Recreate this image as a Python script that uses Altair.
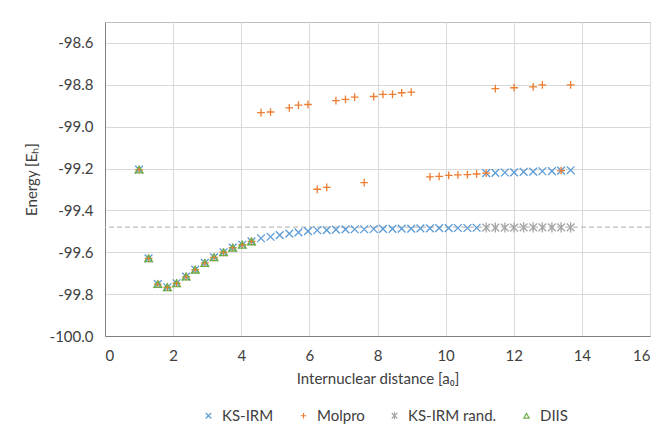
import altair as alt
import pandas as pd

# Internuclear distances (bohr) of the scan grid
dist = [1.00, 1.28, 1.55, 1.83, 2.10, 2.38, 2.65, 2.93, 3.20, 3.48, 3.75, 4.03, 4.30,
        4.58, 4.86, 5.13, 5.41, 5.68, 5.96, 6.23, 6.51, 6.78, 7.06, 7.33, 7.61, 7.89,
        8.16, 8.44, 8.71, 8.99, 9.26, 9.54, 9.81, 10.09, 10.36, 10.64, 10.91, 11.19,
        11.46, 11.74, 12.01, 12.29, 12.57, 12.84, 13.12, 13.39, 13.67]

ks_irm = [-99.205, -99.629, -99.752, -99.767, -99.748, -99.716, -99.683, -99.651,
          -99.624, -99.600, -99.578, -99.564, -99.548, -99.533, -99.526, -99.518,
          -99.511, -99.505, -99.499, -99.495, -99.494, -99.492, -99.491, -99.490,
          -99.490, -99.489, -99.488, -99.488, -99.487, -99.487, -99.486, -99.486,
          -99.485, -99.485, -99.484, -99.484, -99.483, -99.222, -99.221, -99.219,
          -99.218, -99.216, -99.215, -99.213, -99.212, -99.210, -99.208]

molpro_x = [1.00, 1.28, 1.55, 1.83, 2.10, 2.38, 2.65, 2.93, 3.20, 3.48, 3.75, 4.03, 4.30,
            4.58, 4.86, 5.41, 5.68, 5.96, 6.23, 6.51, 6.78, 7.06, 7.33, 7.61, 7.89,
            8.16, 8.44, 8.71, 8.99, 9.54, 9.81, 10.09, 10.36, 10.64, 10.91, 11.19,
            11.46, 12.01, 12.57, 12.84, 13.39, 13.67]
molpro_y = [-99.205, -99.629, -99.752, -99.767, -99.748, -99.716, -99.683, -99.651,
            -99.624, -99.600, -99.578, -99.564, -99.548,
            -98.933, -98.930, -98.910, -98.897, -98.894, -99.299, -99.290, -98.876,
            -98.870, -98.859, -99.267, -98.856, -98.846, -98.846, -98.838, -98.835,
            -99.240, -99.237, -99.233, -99.230, -99.229, -99.226, -99.222,
            -98.818, -98.814, -98.810, -98.800, -99.210, -98.800]

rand_x = [11.19, 11.46, 11.74, 12.01, 12.29, 12.57, 12.84, 13.12, 13.39, 13.67]
rand_y = [-99.482, -99.482, -99.482, -99.482, -99.481, -99.481, -99.481, -99.481,
          -99.481, -99.481]

diis_x = [1.00, 1.28, 1.55, 1.83, 2.10, 2.38, 2.65, 2.93, 3.20, 3.48, 3.75, 4.03, 4.30]
diis_y = [-99.205, -99.629, -99.752, -99.767, -99.748, -99.716, -99.683, -99.651,
          -99.624, -99.600, -99.578, -99.564, -99.548]

reference_energy = -99.48

x_ticks = [0, 2, 4, 6, 8, 10, 12, 14, 16]
y_ticks = [-100.0, -99.8, -99.6, -99.4, -99.2, -99.0, -98.8, -98.6]

series = ["KS-IRM", "Molpro", "KS-IRM rand.", "DIIS"]
colors = ["#5B9BD5", "#ED7D31", "#A5A5A5", "#70AD47"]
shapes = ["M-1,-1L1,1M-1,1L1,-1",
          "M-1,0L1,0M0,-1L0,1",
          "M-1,-1L1,1M-1,1L1,-1M0,-1.3L0,1.3",
          "triangle-up"]

rows = []
for x, y in zip(dist, ks_irm):
    rows.append({"r": x, "E": y, "s": "KS-IRM"})
for x, y in zip(molpro_x, molpro_y):
    rows.append({"r": x, "E": y, "s": "Molpro"})
for x, y in zip(rand_x, rand_y):
    rows.append({"r": x, "E": y, "s": "KS-IRM rand."})
for x, y in zip(diis_x, diis_y):
    rows.append({"r": x, "E": y, "s": "DIIS"})
df = pd.DataFrame(rows)
df["o"] = df["s"].map({s: i for i, s in enumerate(series)})

FONT = "Lato"
TXT = "#404040"

xscale = alt.Scale(domain=[0, 16], nice=False, zero=False)
yscale = alt.Scale(domain=[-100.0, -98.5], nice=False, zero=False)

rule = alt.Chart(pd.DataFrame({"E": [reference_energy]})).mark_rule(
    color="#BFBFBF", strokeDash=[5, 3], strokeWidth=1.2
).encode(y=alt.Y("E:Q", scale=yscale))

points = alt.Chart(df).mark_point(filled=False, strokeWidth=1.3, size=60, opacity=1).encode(
    x=alt.X("r:Q", scale=xscale,
            axis=alt.Axis(values=x_ticks, title="Internuclear distance [a₀]",
                          grid=True, gridColor="#D9D9D9", domainColor="#808080",
                          ticks=False, labelPadding=12, labelFontSize=15,
                          titleFontSize=15, titleFontWeight="normal", titlePadding=8,
                          labelColor=TXT, titleColor=TXT, labelFont=FONT, titleFont=FONT)),
    y=alt.Y("E:Q", scale=yscale,
            axis=alt.Axis(values=y_ticks,
                          labelExpr="'-' + format(-datum.value, '.1f')",
                          title="Energy [Eₕ]",
                          grid=True, gridColor="#D9D9D9", domainColor="#808080",
                          ticks=False, labelPadding=12, labelFontSize=15,
                          titleFontSize=15, titleFontWeight="normal", titlePadding=10,
                          labelColor=TXT, titleColor=TXT, labelFont=FONT, titleFont=FONT)),
    color=alt.Color("s:N", scale=alt.Scale(domain=series, range=colors),
                    legend=alt.Legend(title=None, orient="none", direction="horizontal",
                                      legendX=96, legendY=386, labelFontSize=15,
                                      labelFont=FONT, labelColor=TXT, symbolSize=30,
                                      symbolStrokeWidth=1.1, columnPadding=22,
                                      labelOffset=6, padding=0)),
    shape=alt.Shape("s:N", scale=alt.Scale(domain=series, range=shapes), legend=None),
    order=alt.Order("o:Q"),
)

chart = alt.layer(rule, points).properties(
    width=545, height=314,
    autosize=alt.AutoSizeParams(type="none"),
    padding={"left": 97, "top": 14, "right": 2, "bottom": 92},
).configure_view(stroke="#BFBFBF", strokeWidth=1)

chart.save("out.html", embed_options={"renderer": "svg", "actions": False})
